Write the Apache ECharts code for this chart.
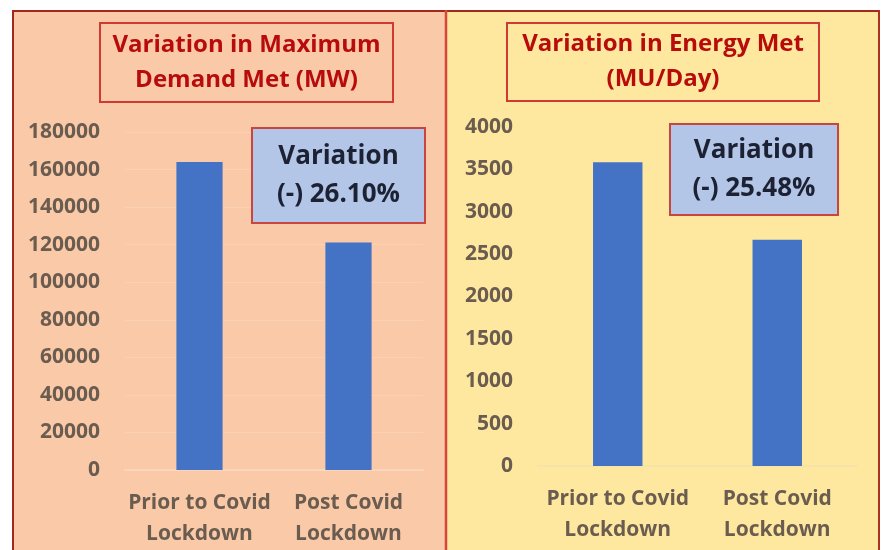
<!DOCTYPE html>
<html>
<head>
<meta charset="utf-8">
<script src="https://cdn.jsdelivr.net/npm/echarts@6/dist/echarts.min.js"></script>
<style>
  html, body { margin: 0; padding: 0; background: #fff; }
  #chart { width: 884px; height: 550px; }
</style>
</head>
<body>
<div id="chart"></div>
<script>
const categories = ['Prior to Covid\nLockdown', 'Post Covid\nLockdown']
const demandMet = [164000, 121200]
const energyMet = [3585, 2671]
const demandTitle = 'Variation in Maximum\nDemand Met (MW)'
const energyTitle = 'Variation in Energy Met\n(MU/Day)'
const demandNote = 'Variation\n(-) 26.10%'
const energyNote = 'Variation\n(-) 25.48%'

const FONT = '"Open Sans", sans-serif'
const labelColor = '#6b5c50'

const chart = echarts.init(document.getElementById('chart'))

const xAxisBase = (gridIndex) => ({
  type: 'category',
  gridIndex,
  data: categories,
  axisTick: { show: false },
  axisLine: { lineStyle: { color: gridIndex === 0 ? '#fad6bd' : '#f6e3a6', width: 2 } },
  axisLabel: {
    color: labelColor,
    fontFamily: FONT,
    fontWeight: 'bold',
    fontSize: 21,
    lineHeight: 31,
    margin: 18,
    interval: 0
  }
})

const yAxisBase = (gridIndex, max, interval, showSplit) => ({
  type: 'value',
  gridIndex,
  min: 0,
  max,
  interval,
  axisLine: { show: false },
  axisTick: { show: false },
  splitLine: { show: showSplit, lineStyle: { color: 'rgba(255,255,255,0.15)', width: 1 } },
  axisLabel: {
    color: labelColor,
    fontFamily: FONT,
    fontWeight: 'bold',
    fontSize: 21,
    margin: 25,
    formatter: (v) => String(v)
  }
})

const box = (x, y, w, h, fill, stroke) => ({
  type: 'rect',
  z: 5,
  shape: { x, y, width: w, height: h },
  style: { fill, stroke, lineWidth: 2 }
})

const label = (x, y, text, color, size, lineHeight) => ({
  type: 'text',
  z: 6,
  x, y,
  style: {
    text,
    fill: color,
    font: `bold ${size}px ${FONT}`,
    align: 'center',
    verticalAlign: 'middle',
    lineHeight
  }
})

chart.setOption({
  backgroundColor: '#ffffff',
  animation: false,
  grid: [
    { left: 125, right: 461, top: 132, bottom: 76 },
    { left: 538, right: 27, top: 127, bottom: 84 }
  ],
  xAxis: [xAxisBase(0), xAxisBase(1)],
  yAxis: [yAxisBase(0, 180000, 20000, true), yAxisBase(1, 4000, 500, false)],
  series: [
    {
      type: 'bar', xAxisIndex: 0, yAxisIndex: 0,
      data: demandMet, barWidth: '31%',
      itemStyle: { color: '#4472c4' }
    },
    {
      type: 'bar', xAxisIndex: 1, yAxisIndex: 1,
      data: energyMet, barWidth: '31%',
      itemStyle: { color: '#4472c4' }
    }
  ],
  graphic: [
    // panel backgrounds
    { type: 'rect', z: -10, shape: { x: 12, y: 10, width: 434, height: 540 }, style: { fill: '#f9c9a8' } },
    { type: 'rect', z: -10, shape: { x: 446, y: 10, width: 433, height: 540 }, style: { fill: '#fee89f' } },
    // panel borders
    { type: 'line', z: 4, shape: { x1: 12, y1: 11, x2: 880, y2: 11 }, style: { stroke: '#a3281c', lineWidth: 2 } },
    { type: 'line', z: 4, shape: { x1: 13, y1: 10, x2: 13, y2: 550 }, style: { stroke: '#a3281c', lineWidth: 2 } },
    { type: 'line', z: 4, shape: { x1: 446, y1: 10, x2: 446, y2: 550 }, style: { stroke: '#d8453a', lineWidth: 2.5 } },
    { type: 'line', z: 4, shape: { x1: 879, y1: 10, x2: 879, y2: 550 }, style: { stroke: '#b0301f', lineWidth: 2 } },
    // title boxes
    box(100, 23, 293, 79, '#f9c9a8', '#cf3b33'),
    box(507, 23, 312, 78, '#fee89f', '#cf3b33'),
    label(246.5, 63, demandTitle, '#b80c0c', 24, 35),
    label(663, 62, energyTitle, '#b80c0c', 24, 35),
    // variation boxes
    box(252, 128, 173, 95, '#b4c6e7', '#c8463f'),
    box(670, 124, 168, 91, '#b4c6e7', '#c8463f'),
    label(338.5, 176, demandNote, '#1c2233', 26, 38),
    label(754, 170, energyNote, '#1c2233', 26, 38)
  ]
})
</script>
</body>
</html>
